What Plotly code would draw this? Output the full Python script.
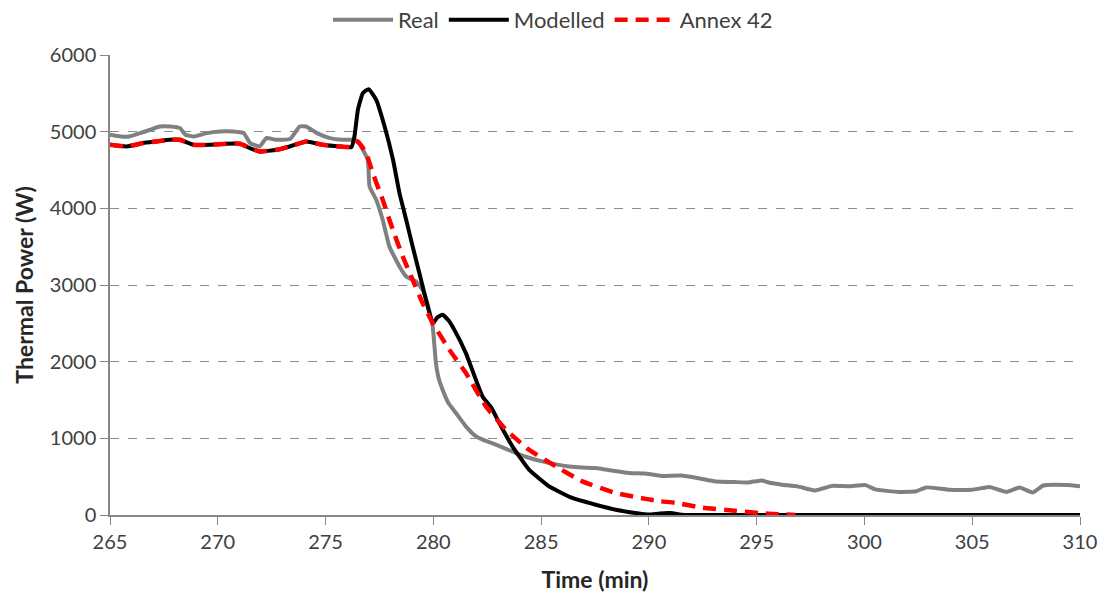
import plotly.graph_objects as go

# ---- data ----
real_t = [265.0, 265.5, 265.9, 266.4, 266.85, 267.3, 267.8, 268.25, 268.5, 268.9, 269.5, 270.1,
          270.7, 271.2, 271.5, 271.95, 272.25, 272.7, 273.35, 273.8, 274.1, 274.6, 275.2, 275.8,
          276.3, 276.5, 276.96, 277.04, 277.35, 277.65, 277.96, 278.43, 278.74, 279.2, 279.5,
          279.8, 279.97, 280.12, 280.25, 280.43, 280.7, 281.05, 281.5, 281.98, 282.4, 282.9,
          283.4, 283.83, 284.4, 285.06, 285.7, 286.3, 286.9, 287.53, 288.3, 289.07, 289.8,
          290.6, 291.5, 292.3, 293.09, 294.0, 294.63, 295.25, 295.6, 296.18, 296.9, 297.7,
          298.5, 299.3, 300.05, 300.5, 301.6, 302.4, 302.86, 303.9, 305.0, 305.8, 306.6,
          307.2, 307.8, 308.3, 309.4, 310.0]
real_w = [4959, 4937, 4937, 4981, 5024, 5068, 5068, 5046, 4959, 4937, 4981, 5002,
          5002, 4981, 4851, 4807, 4916, 4894, 4903, 5068, 5068, 4981, 4916, 4894,
          4894, 4872, 4633, 4285, 4112, 3851, 3503, 3242, 3112, 3046, 2938,
          2677, 2460, 1982, 1780, 1634, 1460, 1330, 1160, 1025, 970, 917,
          860, 808, 750, 699, 660, 634, 620, 613, 580, 548, 540,
          510, 515, 480, 438, 430, 425, 451, 420, 395, 373, 320,
          380, 375, 390, 335, 300, 310, 360, 330, 330, 365, 300,
          360, 295, 385, 390, 375]

model_t = [265.0, 265.77, 266.54, 267.16, 267.78, 268.24, 268.86, 269.63, 270.4, 271.03, 271.49,
           271.95, 272.73, 273.34, 274.1, 274.88, 275.65, 276.2, 276.34, 276.5, 276.73, 277.0,
           277.35, 277.74, 278.13, 278.43, 278.74, 279.04, 279.35, 279.66, 279.97, 280.2, 280.43,
           280.7, 280.97, 281.51, 282.28, 282.69, 283.06, 283.67, 284.44, 285.37, 286.45, 287.53,
           288.46, 289.38, 290.0, 290.5, 291.0, 291.5, 292.0, 310.0]
model_w = [4829, 4807, 4851, 4872, 4894, 4894, 4829, 4829, 4842, 4842, 4786,
           4742, 4763, 4807, 4872, 4829, 4807, 4800, 4937, 5285, 5503, 5555,
           5416, 5068, 4633, 4199, 3851, 3503, 3156, 2808, 2504, 2580, 2612,
           2540, 2418, 2112, 1547, 1400, 1200, 895, 591, 373, 222, 134,
           69, 26, 5, 20, 25, 5, 0, 0]

annex_t = [265.0, 265.77, 266.54, 267.16, 267.78, 268.24, 268.86, 269.63, 270.4, 271.03, 271.49,
           271.95, 272.73, 273.34, 274.1, 274.88, 275.65, 276.2, 276.5, 276.88, 277.19, 277.65,
           278.12, 278.58, 279.04, 279.5, 279.97, 280.74, 281.51, 282.44, 283.37, 284.44, 285.68,
           286.91, 288.46, 289.85, 290.5, 291.2, 292.5, 293.85, 295.1, 296.0, 296.8]
annex_w = [4829, 4807, 4851, 4872, 4894, 4894, 4829, 4829, 4842, 4842, 4786,
           4742, 4763, 4807, 4872, 4829, 4807, 4800, 4872, 4720, 4460, 4112,
           3720, 3372, 3068, 2765, 2504, 2157, 1852, 1416, 1112, 851, 634,
           438, 287, 210, 180, 160, 95, 60, 26, 10, 0]

x_ticks = [265, 270, 275, 280, 285, 290, 295, 300, 305, 310]
y_ticks = [0, 1000, 2000, 3000, 4000, 5000, 6000]

FONT = "Lato, 'Open Sans', sans-serif"
TXT = "#404040"
AX = "#868686"

fig = go.Figure()
fig.add_trace(go.Scatter(x=real_t, y=real_w, name="Real", mode="lines",
                         line=dict(color="#808080", width=4, shape="spline", smoothing=0.4)))
fig.add_trace(go.Scatter(x=model_t, y=model_w, name="Modelled", mode="lines",
                         line=dict(color="#000000", width=4, shape="spline", smoothing=0.4)))
fig.add_trace(go.Scatter(x=annex_t, y=annex_w, name="Annex 42", mode="lines",
                         line=dict(color="#ff0000", width=4.5, dash="13px,8px",
                                   shape="spline", smoothing=0.4)))

fig.update_layout(
    width=1106, height=597,
    paper_bgcolor="white", plot_bgcolor="white",
    margin=dict(l=110, r=26, t=55, b=82, autoexpand=False),
    font=dict(family=FONT, size=20, color=TXT),
    showlegend=True,
    legend=dict(orientation="h", x=0.5, xanchor="center", xref="container",
                y=1 - 20 / 597, yanchor="middle", yref="container",
                font=dict(size=22, color=TXT), itemwidth=60,
                traceorder="normal", bgcolor="rgba(0,0,0,0)"),
    xaxis=dict(range=[265, 310], tickvals=x_ticks, showgrid=False, zeroline=False,
               showline=True, linecolor=AX, linewidth=1.5, automargin=False,
               ticks="outside", ticklen=8, tickcolor=AX, tickwidth=1,
               tickfont=dict(size=20, color=TXT),
               title=dict(text="<b>Time (min)</b>", font=dict(size=23, color="#262626"),
                          standoff=20)),
    yaxis=dict(range=[0, 6000], tickvals=y_ticks, showgrid=True, gridcolor="#8c8c8c",
               griddash="dash", gridwidth=1, zeroline=False, automargin=False,
               showline=True, linecolor=AX, linewidth=1.5,
               ticks="outside", ticklen=8, tickcolor=AX, tickwidth=1,
               tickfont=dict(size=20, color=TXT),
               title=dict(text="<b>Thermal Power (W)</b>", font=dict(size=23, color="#262626"),
                          standoff=10)),
)

fig.write_html("out.html", config={"displayModeBar": False},
               post_script="document.body.style.margin='0';")
